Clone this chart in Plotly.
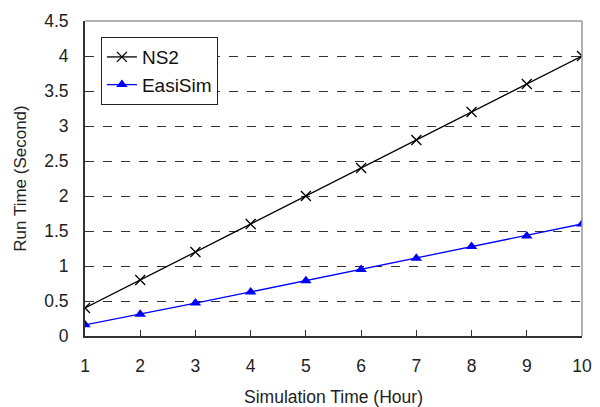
import plotly.graph_objects as go

hours = [1, 2, 3, 4, 5, 6, 7, 8, 9, 10]
ns2 = [0.4, 0.8, 1.2, 1.6, 2.0, 2.4, 2.8, 3.2, 3.6, 4.0]
easisim = [0.16, 0.31, 0.47, 0.63, 0.79, 0.95, 1.11, 1.28, 1.43, 1.60]
yticks = [0, 0.5, 1, 1.5, 2, 2.5, 3, 3.5, 4, 4.5]

font = "Liberation Sans, Arial, sans-serif"

fig = go.Figure()
fig.add_trace(go.Scatter(
    x=hours, y=ns2, name="NS2", mode="lines+markers",
    line=dict(color="black", width=1.3),
    marker=dict(symbol="x-thin", size=10, line=dict(color="black", width=1.3), color="black"),
))
fig.add_trace(go.Scatter(
    x=hours, y=easisim, name="EasiSim", mode="lines+markers",
    line=dict(color="#0000ff", width=1.3),
    marker=dict(symbol="triangle-up", size=10, color="#0000ff"),
))

fig.update_layout(
    width=600, height=407,
    margin=dict(l=85, r=18, t=21, b=71),
    paper_bgcolor="white", plot_bgcolor="white",
    font=dict(family=font, size=17, color="#222"),
    showlegend=True,
    legend=dict(
        x=0.032, y=0.949, xanchor="left", yanchor="top",
        bgcolor="white", bordercolor="#222", borderwidth=1,
        font=dict(family=font, size=19, color="#111"),
        tracegroupgap=2,
    ),
    xaxis=dict(
        range=[1, 10], tickvals=hours, ticks="inside", ticklen=6, tickcolor="#333",
        showline=True, linecolor="#333", linewidth=2, showgrid=False, zeroline=False,
        ticklabelstandoff=13, automargin=False,
        title=dict(text="Simulation Time (Hour)", font=dict(size=17.5), standoff=22),
        tickfont=dict(size=17.5),
    ),
    yaxis=dict(
        range=[0, 4.5], tickvals=yticks, ticks="inside", ticklen=6, tickcolor="#333",
        showline=True, linecolor="#333", linewidth=2, showgrid=True,
        gridcolor="#333", griddash="dash", gridwidth=1, zeroline=False,
        ticklabelstandoff=11, automargin=False,
        title=dict(text="Run Time (Second)", font=dict(size=17), standoff=13),
        tickfont=dict(size=17.5),
    ),
    shapes=[
        dict(type="line", xref="paper", yref="paper", x0=0, x1=1, y0=1, y1=1,
             line=dict(color="#999", width=1.5)),
        dict(type="line", xref="paper", yref="paper", x0=1, x1=1, y0=0, y1=1,
             line=dict(color="#999", width=1.5)),
    ],
)

fig.write_html("out.html")
